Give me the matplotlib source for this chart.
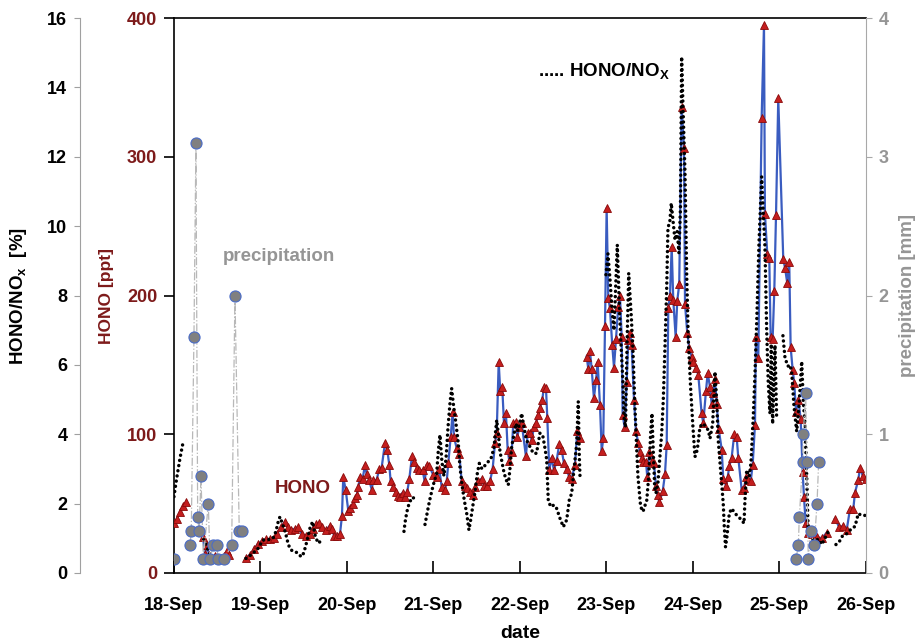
import numpy as np
import matplotlib
matplotlib.use("Agg")
from matplotlib import pyplot as plt

plt.rcParams['font.family'] = ['Liberation Sans', 'DejaVu Sans']
plt.rcParams['font.weight'] = 'bold'

nan = np.nan
date_labels = ['18-Sep', '19-Sep', '20-Sep', '21-Sep', '22-Sep', '23-Sep', '24-Sep', '25-Sep', '26-Sep']

# HONO [ppt], time in days after 18-Sep 00:00 (nan = gap)
hono_t = [0, 0.035, 0.069, 0.104, 0.139, nan,
          0.335, 0.358, 0.382, 0.405, 0.439, 0.474, 0.509, 0.543, 0.578, 0.613, 0.636, nan,
          0.832, 0.879, 0.925, 0.971, 1.017, 1.064, 1.110, 1.156, 1.191, 1.237, 1.283, 1.318,
          1.353, 1.399, 1.434, 1.480, 1.526, 1.572, 1.607, 1.642, 1.676, 1.711, 1.757, 1.803,
          1.827, 1.850, 1.884, 1.919, 1.942, 1.957, 1.985, 2.015, 2.035, 2.073, 2.092, 2.112,
          2.131, 2.150, 2.182, 2.208, 2.228, 2.258, 2.286, 2.304, 2.343, 2.373, 2.401, 2.439,
          2.466, 2.489, 2.505, 2.535, 2.566, 2.586, 2.613, 2.644, 2.671, 2.697, 2.720, 2.751,
          2.775, 2.806, 2.836, 2.875, 2.898, 2.921, 2.951, 2.998, 3.037, 3.067, 3.095, 3.133,
          3.153, 3.171, 3.199, 3.222, 3.237, 3.268, 3.298, 3.326, 3.364, 3.391, 3.422, 3.453,
          3.480, 3.518, 3.557, 3.587, 3.622, 3.653, 3.684, 3.711, 3.731, 3.754, 3.772, 3.795,
          3.815, 3.838, 3.858, 3.876, 3.904, 3.923, 3.954, 3.969, 3.992, 4.020, 4.069, 4.089,
          4.116, 4.135, 4.162, 4.185, 4.212, 4.231, 4.258, 4.277, 4.301, 4.316, 4.339, 4.366,
          4.393, 4.424, 4.454, 4.482, 4.509, 4.540, 4.570, 4.598, 4.636, 4.662, 4.694, nan,
          4.771, 4.790, 4.809, 4.829, 4.855, 4.879, 4.898, 4.925, 4.945, 4.963, 4.983, 5.002,
          5.021, 5.040, 5.067, 5.087, 5.110, 5.136, 5.156, 5.176, 5.187, 5.210, 5.234, 5.252,
          5.272, 5.291, 5.318, 5.341, 5.368, 5.387, 5.407, 5.426, 5.457, 5.472, 5.495, 5.523,
          5.549, 5.572, 5.592, 5.611, 5.650, 5.676, 5.696, 5.715, 5.734, 5.754, 5.772, 5.800,
          5.818, 5.841, 5.869, 5.896, 5.908, 5.934, 5.957, 5.985, 6.003, 6.035, 6.061, 6.100,
          6.119, 6.150, 6.170, 6.197, 6.216, 6.235, 6.254, 6.274, 6.297, 6.332, 6.350, 6.382,
          6.401, 6.420, 6.447, 6.477, 6.505, 6.524, 6.563, 6.590, 6.613, 6.640, 6.667, 6.690,
          6.717, 6.728, 6.755, 6.794, 6.821, 6.832, 6.859, 6.882, 6.898, 6.921, 6.940, 6.960,
          6.986, 7.044, 7.064, 7.090, 7.113, 7.129, 7.153, 7.171, 7.191, 7.218, 7.245, 7.268,
          7.283, 7.303, 7.333, 7.376, 7.430, 7.488, 7.546, nan,
          7.642, 7.691, 7.738, 7.777, 7.815, 7.853, 7.873, 7.911, 7.931, 7.962, 8.0]
hono_v = [36, 39, 44, 48, 51, nan,
          26, 14, 20, 13, 11, 12, 10, 11, 12, 16, 13, nan,
          11, 13, 17, 21, 23, 24.5, 24.5, 25, 28, 33, 37, 33,
          31, 32, 33, 28, 27, 28, 32, 35, 36, 33, 31, 34,
          32, 27, 27, 28, 41, 69, 60, 45, 47, 50, 54, 56,
          62, 69, 68, 78, 71, 67, 60, 67, 67, 75, 76, 93.5,
          88.6, 78, 66, 62, 58.6, 55.5, 55, 58, 55, 58.6, 67.5, 84,
          80, 76, 74, 74, 66, 78, 77, 70.6, 69, 75, 62, 60,
          66, 79, 98, 116, 98, 90, 86, 66, 63, 61, 58.6, 56,
          62, 66, 68, 63, 63, 66, 75, 93.5, 101, 152, 131, 134,
          108, 115, 88.6, 81, 87, 108, 109, 98, 105, 108, 84, 101,
          101, 96, 105, 108, 114, 119, 125, 134, 133, 111.5, 74, 83,
          74, 81, 93, 88.6, 79, 75, 69, 68, 78, 102, 97, nan,
          156, 147, 160, 147, 126, 139, 152, 121, 88, 97, 178, 263,
          198, 191, 164, 148, 169, 192, 200, 170, 114, 105, 138, 168,
          173, 164, 125, 102, 93.5, 87, 83, 80, 80, 69, 87, 81,
          79, 63, 56, 51, 59, 71, 92, 191, 200, 235, 197, 170,
          196, 208, 336, 306, 194, 173, 162, 156, 152, 148, 143, 115,
          108, 131, 144, 134, 122, 130, 140, 122, 104, 89, 68, 63,
          69, 77, 83, 100, 98, 83, 60, 61, 69, 67, 66, 78,
          107, 170, 155, 328, 395, 259, 230, 227, 170, 169, 203, 258,
          342, 226, 220, 209, 224, 163, 146, 137, 116, 125, 111, 73,
          55, 36, 29, 28, 26, 25, 29, nan,
          39, 33, 34, 31, 46, 46, 58, 67, 76, 70, 68]

# HONO/NOx [%]
ratio_t = [0, 0.023, 0.046, 0.069, 0.092, 0.104, nan,
           0.312, 0.335, 0.358, 0.382, 0.405, 0.428, 0.451, 0.474, nan,
           0.832, 0.879, 0.925, 0.960, 0.994, 1.029, 1.064, 1.110, 1.145, 1.179, 1.202, 1.225,
           1.249, 1.272, 1.295, 1.318, 1.341, 1.376, 1.422, 1.457, 1.480, 1.503, 1.526, 1.549,
           1.572, 1.603, 1.630, 1.665, 1.688, nan,
           2.659, 2.671, 2.688, 2.705, 2.728, 2.751, 2.786, 2.821, nan,
           2.902, 2.925, 2.948, 2.965, 2.998, 3.037, 3.055, 3.075, 3.098, 3.121, 3.145, 3.168,
           3.191, 3.210, 3.229, 3.260, 3.287, 3.306, 3.333, 3.356, 3.384, 3.410, 3.430, 3.453,
           3.480, 3.507, 3.530, 3.561, 3.595, 3.630, 3.665, 3.699, 3.731, 3.749, 3.769, 3.792,
           3.815, 3.838, 3.865, 3.884, 3.904, 3.931, 3.954, 3.977, 4.000, 4.020, 4.046, 4.077,
           4.116, 4.154, 4.191, 4.231, 4.262, 4.289, 4.309, 4.327, 4.355, 4.393, 4.424, 4.462,
           4.501, 4.540, 4.570, 4.598, 4.616, 4.656, 4.674, 4.686, 4.694, nan,
           4.994, 5.017, 5.040, 5.064, 5.087, 5.110, 5.125, 5.153, 5.171, 5.191, 5.202, 5.220,
           5.237, 5.257, 5.287, 5.306, 5.326, 5.345, 5.364, 5.395, 5.422, 5.466, 5.488, 5.511,
           5.526, 5.541, 5.557, 5.572, 5.595, 5.638, 5.657, 5.676, 5.696, 5.711, 5.731, 5.749,
           5.772, 5.792, 5.818, 5.838, 5.855, 5.869, 5.884, 5.908, 5.927, 5.946, 5.974, 5.997,
           6.023, 6.050, 6.081, 6.119, 6.150, 6.177, 6.197, 6.228, 6.254, 6.274, 6.292, 6.312,
           6.332, 6.350, 6.362, 6.376, 6.393, 6.420, 6.447, 6.486, 6.524, 6.563, 6.590, 6.601,
           6.621, 6.651, 6.671, 6.697, 6.717, 6.740, 6.763, 6.794, 6.813, 6.832, 6.852, 6.870,
           6.890, 6.905, 6.921, 6.936, 6.948, 6.967, nan,
           7.040, 7.064, 7.098, 7.121, 7.141, 7.168, 7.199, 7.225, 7.257, 7.275, 7.295, 7.314,
           7.333, 7.373, 7.410, 7.449, 7.488, 7.526, 7.564, nan,
           7.653, 7.691, 7.731, 7.784, 7.835, 7.873, 7.911, 7.951, 7.988]
ratio_v = [2.2, 2.6, 2.95, 3.3, 3.6, 3.75, nan,
           1.1, 1.0, 0.9, 0.75, 0.57, 0.47, 0.45, 0.45, nan,
           0.42, 0.5, 0.6, 0.66, 0.8, 0.95, 0.95, 0.97, 1.0, 1.2, 1.45, 1.62,
           1.45, 1.3, 1.1, 0.86, 0.7, 0.62, 0.59, 0.5, 0.47, 0.6, 0.81, 1.05,
           1.29, 1.48, 1.1, 0.86, 0.9, nan,
           1.2, 1.45, 1.7, 1.9, 2.05, 2.18, 2.15, 2.1, nan,
           1.4, 1.7, 2.0, 2.2, 2.54, 2.87, 3.5, 3.98, 3.2, 2.8, 3.3, 4.2,
           4.9, 5.32, 4.89, 4.31, 3.74, 3.06, 2.49, 2.1, 1.72, 1.24, 1.53, 1.91,
           2.34, 2.87, 3.16, 3.0, 3.1, 3.2, 3.3, 3.6, 4.41, 4.03, 3.5, 3.2,
           2.9, 2.7, 2.54, 3.0, 3.64, 4.0, 4.31, 4.1, 4.36, 4.6, 4.2, 3.83,
           3.64, 3.45, 3.45, 4.03, 3.98, 3.6, 3.26, 2.1, 1.91, 1.96, 1.86, 1.58,
           1.33, 1.53, 2.1, 2.3, 2.78, 3.74, 4.94, 3.35, 2.78, nan,
           8.6, 9.2, 8.5, 7.6, 7.0, 8.5, 9.46, 7.4, 6.43, 5.47, 4.5, 4.2,
           6.5, 8.64, 7.39, 6.43, 4.99, 3.83, 2.78, 1.91, 1.77, 2.1, 2.78, 4.03,
           4.6, 3.5, 2.49, 2.3, 2.6, 4.03, 5.0, 6.5, 8.2, 9.98, 10.08, 10.66,
           10.1, 9.6, 9.84, 9.22, 10.5, 14.88, 13.5, 11.52, 8.64, 6.72, 5.28, 4.31,
           3.35, 3.55, 4.22, 4.31, 4.2, 4.12, 3.88, 4.31, 5.8, 4.99, 3.83, 3.2,
           2.6, 2.0, 1.33, 0.75, 1.05, 1.72, 1.86, 1.72, 1.62, 1.53, 1.43, 2.1,
           2.97, 2.78, 3.2, 4.5, 5.76, 7.5, 9.5, 11.42, 10.36, 9.41, 7.0, 5.5,
           4.6, 6.6, 4.3, 5.5, 6.57, 4.5, nan,
           6.84, 6.2, 5.96, 6.0, 5.8, 4.8, 4.08, 4.8, 6.1, 4.96, 4.3, 2.87,
           1.1, 0.98, 0.92, 0.98, 0.82, 1.0, 1.19, nan,
           0.82, 0.9, 1.08, 1.14, 1.29, 1.34, 1.71, 1.66, 1.66]

# precipitation [mm]
precip_t = [0, nan, 0.185, 0.200, 0.231, 0.254, 0.274, 0.292, 0.312, 0.339, 0.397, 0.416,
            0.454, 0.494, 0.512, 0.578, 0.667, 0.705, 0.755, 0.783, nan,
            7.191, 7.218, 7.229, 7.268, 7.275, 7.303, 7.314, 7.333, 7.361, 7.402, 7.434, 7.453]
precip_v = [0.1, nan, 0.2, 0.3, 1.7, 3.1, 0.4, 0.3, 0.7, 0.1, 0.5, 0.1,
            0.2, 0.2, 0.1, 0.1, 0.2, 2.0, 0.3, 0.3, nan,
            0.1, 0.2, 0.4, 0.8, 1.0, 1.3, 0.8, 0.1, 0.3, 0.2, 0.5, 0.8]

dark_red = '#7d1a1a'
gray = '#959595'

fig = plt.figure(figsize=(9.19, 6.41), dpi=100)
ax = fig.add_axes([0.1893, 0.1061, 0.7530, 0.8658])
ax_r = ax.twinx()
ax_p = ax.twinx()

# HONO
ax.plot(hono_t, hono_v, color='#3a5cc0', lw=1.6, marker='^', ms=5.8,
        mfc='#c41e1e', mec='#8a0a0a', mew=0.6, zorder=3)
ax.set_xlim(0, 8)
ax.set_ylim(0, 400)
ax.set_xticks(range(9))
ax.set_xticklabels(date_labels)
ax.set_yticks([0, 100, 200, 300, 400])
ax.tick_params(axis='x', direction='in', length=9, width=1.2, pad=17, labelsize=13)
ax.tick_params(axis='y', direction='out', length=7, width=1.2, pad=5, labelsize=13, labelcolor=dark_red)
ax.set_xlabel('date', fontsize=14, fontweight='bold')
ax.xaxis.set_label_coords(0.5, -0.093)
ax.set_ylabel('HONO [ppt]', color=dark_red, fontsize=12.5, fontweight='bold')
ax.yaxis.set_label_coords(-0.087, 0.5)
for s in ['bottom', 'left', 'top']:
    ax.spines[s].set_linewidth(1.2)
ax.spines['right'].set_visible(False)

# HONO/NOx
ax_r.plot(ratio_t, ratio_v, color='black', lw=2.5, ls=(0, (0.01, 1.5)),
          dash_capstyle='round', zorder=2)
ax_r.set_ylim(0, 16)
ax_r.set_yticks(range(0, 17, 2))
ax_r.yaxis.set_ticks_position('left')
ax_r.yaxis.set_label_position('left')
ax_r.spines['left'].set_visible(True)
ax_r.spines['left'].set_position(('axes', -0.136))
ax_r.spines['left'].set_color('#a0a0a0')
ax_r.spines['right'].set_visible(False)
ax_r.spines['top'].set_visible(False)
ax_r.spines['bottom'].set_visible(False)
ax_r.tick_params(axis='y', direction='out', length=4, color='#a0a0a0', pad=5, labelsize=13)
ax_r.set_ylabel('HONO/NO$\\mathregular{_x}$  [%]', fontsize=13.5, fontweight='bold')
ax_r.yaxis.set_label_coords(-0.209, 0.5)

# precipitation
ax_p.plot(precip_t, precip_v, color='#b8b8b8', lw=0.9, ls='-.', marker='o', ms=8,
          mfc='#808080', mec='#4a6cc8', mew=0.8, zorder=4)
ax_p.set_ylim(0, 4)
ax_p.set_yticks([0, 1, 2, 3, 4])
ax_p.spines['right'].set_color('#a8a8a8')
ax_p.spines['top'].set_visible(False)
ax_p.spines['left'].set_visible(False)
ax_p.spines['bottom'].set_visible(False)
ax_p.tick_params(axis='y', direction='out', length=4, color='#a8a8a8', pad=5,
                 labelsize=13, labelcolor=gray)
ax_p.set_ylabel('precipitation [mm]', color=gray, fontsize=13.5, fontweight='bold')
ax_p.yaxis.set_label_coords(1.048, 0.5)

ax.text(0.566, 228, 'precipitation', color=gray, fontsize=13.5, fontweight='bold',
        ha='left', va='center')
ax.text(1.168, 61, 'HONO', color=dark_red, fontsize=13.5, fontweight='bold',
        ha='left', va='center')
ax.text(4.208, 362, '..... HONO/NO$\\mathregular{_X}$', color='black', fontsize=13.5,
        fontweight='bold', ha='left', va='center')

fig.savefig('out.png', dpi=100)
